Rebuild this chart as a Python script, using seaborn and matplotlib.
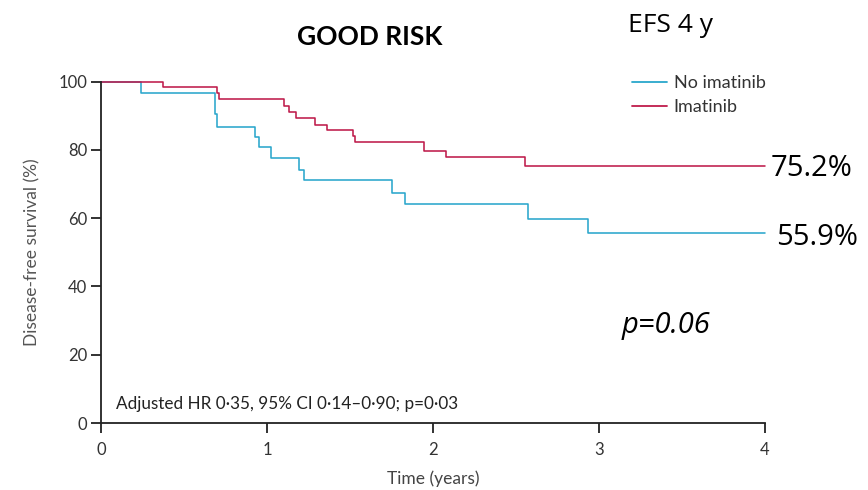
import matplotlib
matplotlib.use("Agg")
import matplotlib.pyplot as plt
import seaborn as sns
import pandas as pd
from matplotlib.lines import Line2D

# Data
groups = ["No imatinib", "Imatinib"]
no_imat_time = [0, 0.241, 0.684, 0.696, 0.928, 0.950, 1.024, 1.190, 1.225, 1.753, 1.833, 2.570, 2.931, 4.0]
no_imat_surv = [100, 96.6, 90.5, 86.8, 83.9, 80.9, 77.5, 74.2, 71.3, 67.5, 64.1, 59.9, 55.8, 55.8]
imat_time = [0, 0.375, 0.696, 0.708, 1.102, 1.132, 1.176, 1.289, 1.361, 1.516, 1.530, 1.943, 2.078, 2.552, 4.0]
imat_surv = [100, 98.4, 96.6, 94.9, 92.9, 91.2, 89.5, 87.3, 85.9, 84.0, 82.4, 79.6, 77.9, 75.2, 75.2]
x_ticks = [0, 1, 2, 3, 4]
y_ticks = [0, 20, 40, 60, 80, 100]
final_labels = ["55.9%", "75.2%"]

colors = {"No imatinib": "#2aa7cc", "Imatinib": "#bf1b4b"}

df = pd.concat([
    pd.DataFrame({"t": no_imat_time, "s": no_imat_surv, "group": "No imatinib"}),
    pd.DataFrame({"t": imat_time, "s": imat_surv, "group": "Imatinib"}),
])

sns.set_style("ticks")
plt.rcParams["font.family"] = ["Lato", "DejaVu Sans"]

fig = plt.figure(figsize=(8.68, 4.9), dpi=100)
ax = fig.add_axes([0.1164, 0.1367, 0.7649, 0.6966])

sns.lineplot(data=df, x="t", y="s", hue="group", palette=colors,
             drawstyle="steps-post", estimator=None, sort=False,
             linewidth=1.15, legend=False, ax=ax)
for ln in ax.lines:
    ln.set_clip_on(False)

ax.set_xlim(0, 4)
ax.set_ylim(0, 100)
ax.set_xticks(x_ticks)
ax.set_yticks(y_ticks)
ax.tick_params(axis="both", direction="out", length=7.5, width=1.3,
               bottom=True, left=True,
               color="#222222", labelsize=12, labelcolor="#333333")
ax.tick_params(axis="x", pad=6)
ax.tick_params(axis="y", pad=2.5)
for side in ["top", "right"]:
    ax.spines[side].set_visible(False)
for side in ["left", "bottom"]:
    ax.spines[side].set_color("#222222")
    ax.spines[side].set_linewidth(1.3)

ax.set_xlabel("Time (years)", fontsize=12.5, color="#444444", labelpad=9)
ax.set_ylabel("Disease-free survival (%)", fontsize=12.5, color="#555555", labelpad=13)

handles = [Line2D([0], [0], color=colors[g], lw=1.3) for g in groups]
ax.legend(handles, groups, loc="upper left", bbox_to_anchor=(0.80, 1.02),
          frameon=False, fontsize=13, handlelength=1.95, handletextpad=0.35,
          labelspacing=0.45, borderpad=0, borderaxespad=0, labelcolor="#333333")

ax.text(0.023, 0.04, "Adjusted HR 0·35, 95% CI 0·14–0·90; p=0·03",
        transform=ax.transAxes, fontsize=12.3, color="#222222", va="baseline")

big = ["Open Sans", "DejaVu Sans"]
fig.text(0.426, 0.908, "GOOD RISK", fontsize=19, fontweight="bold",
         ha="center", va="baseline", color="black")
fig.text(0.7235, 0.935, "EFS 4 y", fontsize=19, family=big, ha="left", va="baseline", color="black")
fig.text(0.888, 0.641, final_labels[1], fontsize=21, family=big, ha="left", va="baseline", color="black")
fig.text(0.894, 0.500, final_labels[0], fontsize=21, family=big, ha="left", va="baseline", color="black")
fig.text(0.716, 0.320, "p=0.06", fontsize=21, family=big, style="italic", ha="left", va="baseline", color="black")

fig.savefig("out.png", dpi=100)
